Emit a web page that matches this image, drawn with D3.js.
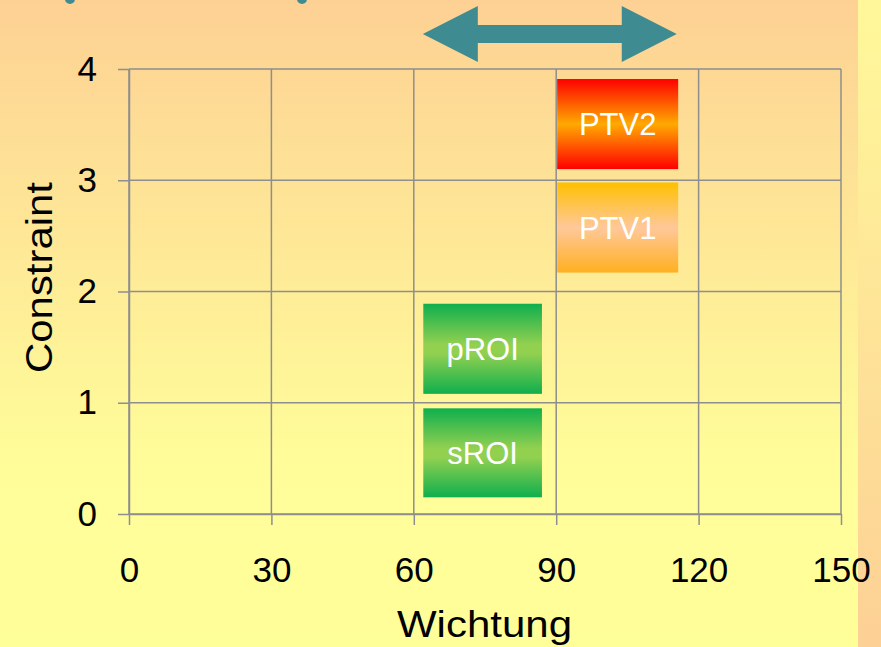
<!DOCTYPE html>
<html>
<head>
<meta charset="utf-8">
<script src="https://cdn.jsdelivr.net/npm/d3@7"></script>
<style>
  html, body { margin: 0; padding: 0; overflow: hidden; }
  svg { display: block; font-family: "Liberation Sans", Arial, sans-serif; }
</style>
</head>
<body>
<div id="chart"></div>
<script>
(function () {
  'use strict';

  // data
  var labels = ["sROI", "pROI", "PTV1", "PTV2"];
  var xStart = [62, 62, 90.2, 90.2];
  var xEnd = [87, 87, 115.7, 115.7];
  var yLow = [0.15, 1.08, 2.17, 3.1];
  var yHigh = [0.95, 1.89, 2.98, 3.91];
  var fills = ["green", "green", "orange", "red"];
  var xTicks = [0, 30, 60, 90, 120, 150];
  var yTicks = [0, 1, 2, 3, 4];
  var arrowRange = [61.9, 115.4];

  var W = 881, H = 647;
  var margin = {top: 69, right: 40, bottom: 133, left: 129};

  var svg = d3.select("#chart")
    .append("svg")
    .attr("width", W)
    .attr("height", H);

  var defs = svg.append("defs");

  function vGrad(id, stops) {
    var g = defs.append("linearGradient")
      .attr("id", id)
      .attr("x1", 0).attr("y1", 0)
      .attr("x2", 0).attr("y2", 1);
    stops.forEach(function (s) {
      g.append("stop").attr("offset", s[0]).attr("stop-color", s[1]);
    });
  }

  vGrad("bgMain", [[0, "#FDD194"], [0.72, "#FFFD99"], [1, "#FFFF99"]]);
  vGrad("bgSide", [[0, "#FFF89A"], [1, "#FDD095"]]);
  vGrad("green", [[0, "#0FAF4D"], [0.45, "#92D050"], [0.55, "#92D050"], [1, "#0FAF4D"]]);
  vGrad("red", [[0, "#FF0000"], [0.5, "#FFAA00"], [1, "#FF0000"]]);
  vGrad("orange", [[0, "#FFC000"], [0.5, "#FFC89A"], [1, "#FFB020"]]);

  // background
  svg.append("rect")
    .attr("width", W).attr("height", H)
    .attr("fill", "url(#bgMain)");
  svg.append("rect")
    .attr("x", 858).attr("width", W - 858).attr("height", H)
    .attr("fill", "url(#bgSide)");

  // cut-off title remnants
  svg.append("g").selectAll("circle")
    .data([70, 302])
    .enter().append("circle")
    .attr("cx", function (d) { return d; })
    .attr("cy", -1)
    .attr("r", 5)
    .attr("fill", "#3E8C91");

  var x = d3.scaleLinear()
    .domain([0, 150])
    .range([margin.left, margin.left + 712]);

  var y = d3.scaleLinear()
    .domain([0, 4])
    .range([margin.top + 445, margin.top]);

  var gridColor = "#8E8E8E";

  // grid
  var grid = svg.append("g").attr("class", "grid");
  grid.selectAll("line.h")
    .data(yTicks)
    .enter().append("line")
    .attr("class", "h")
    .attr("x1", x(0)).attr("x2", x(150))
    .attr("y1", function (d) { return y(d); })
    .attr("y2", function (d) { return y(d); })
    .attr("stroke", gridColor)
    .attr("stroke-width", 1.5);
  grid.selectAll("line.v")
    .data(xTicks)
    .enter().append("line")
    .attr("class", "v")
    .attr("y1", y(0)).attr("y2", y(4))
    .attr("x1", function (d) { return x(d); })
    .attr("x2", function (d) { return x(d); })
    .attr("stroke", gridColor)
    .attr("stroke-width", 1.5);

  // axes
  var xAxis = d3.axisBottom(x)
    .tickValues(xTicks)
    .tickFormat(d3.format("d"))
    .tickSize(11)
    .tickSizeOuter(0)
    .tickPadding(32);

  var gx = svg.append("g")
    .attr("class", "x axis")
    .attr("transform", "translate(0," + y(0) + ")")
    .call(xAxis);

  var yAxis = d3.axisLeft(y)
    .tickValues(yTicks)
    .tickFormat(d3.format("d"))
    .tickSize(11)
    .tickSizeOuter(0)
    .tickPadding(21);

  var gy = svg.append("g")
    .attr("class", "y axis")
    .attr("transform", "translate(" + x(0) + ",0)")
    .call(yAxis);

  [gx, gy].forEach(function (g) {
    g.selectAll("path, line")
      .attr("stroke", gridColor)
      .attr("stroke-width", 1.5);
    g.selectAll("text")
      .attr("fill", "#000")
      .style("font-size", "35px")
      .style("font-family", "'Liberation Sans', Arial, sans-serif");
  });

  // axis titles
  svg.append("text")
    .attr("x", 484.5)
    .attr("y", 637)
    .attr("text-anchor", "middle")
    .attr("textLength", 175)
    .attr("lengthAdjust", "spacingAndGlyphs")
    .style("font-size", "36px")
    .text("Wichtung");

  svg.append("text")
    .attr("transform", "translate(52,277.5) rotate(-90)")
    .attr("text-anchor", "middle")
    .attr("textLength", 191)
    .attr("lengthAdjust", "spacingAndGlyphs")
    .style("font-size", "37px")
    .text("Constraint");

  // bars
  var bars = svg.append("g").attr("class", "bars")
    .selectAll("g")
    .data(labels)
    .enter().append("g");

  bars.append("rect")
    .attr("x", function (d, i) { return x(xStart[i]); })
    .attr("y", function (d, i) { return y(yHigh[i]); })
    .attr("width", function (d, i) { return x(xEnd[i]) - x(xStart[i]); })
    .attr("height", function (d, i) { return y(yLow[i]) - y(yHigh[i]); })
    .attr("fill", function (d, i) { return "url(#" + fills[i] + ")"; });

  bars.append("text")
    .attr("x", function (d, i) { return (x(xStart[i]) + x(xEnd[i])) / 2; })
    .attr("y", function (d, i) { return (y(yLow[i]) + y(yHigh[i])) / 2; })
    .attr("dy", "0.36em")
    .attr("text-anchor", "middle")
    .attr("fill", "#fff")
    .style("font-size", "31px")
    .text(function (d) { return d; });

  // double arrow
  var ax0 = x(arrowRange[0]), ax1 = x(arrowRange[1]);
  var ay = 34, head = 55, hh = 28, sh = 9;
  var pts = [
    [ax0, ay], [ax0 + head, ay - hh], [ax0 + head, ay - sh],
    [ax1 - head, ay - sh], [ax1 - head, ay - hh], [ax1, ay],
    [ax1 - head, ay + hh], [ax1 - head, ay + sh], [ax0 + head, ay + sh],
    [ax0 + head, ay + hh]
  ];
  svg.append("path")
    .attr("d", d3.line()(pts) + "Z")
    .attr("fill", "#3E8C91");
})();
</script>
</body>
</html>
